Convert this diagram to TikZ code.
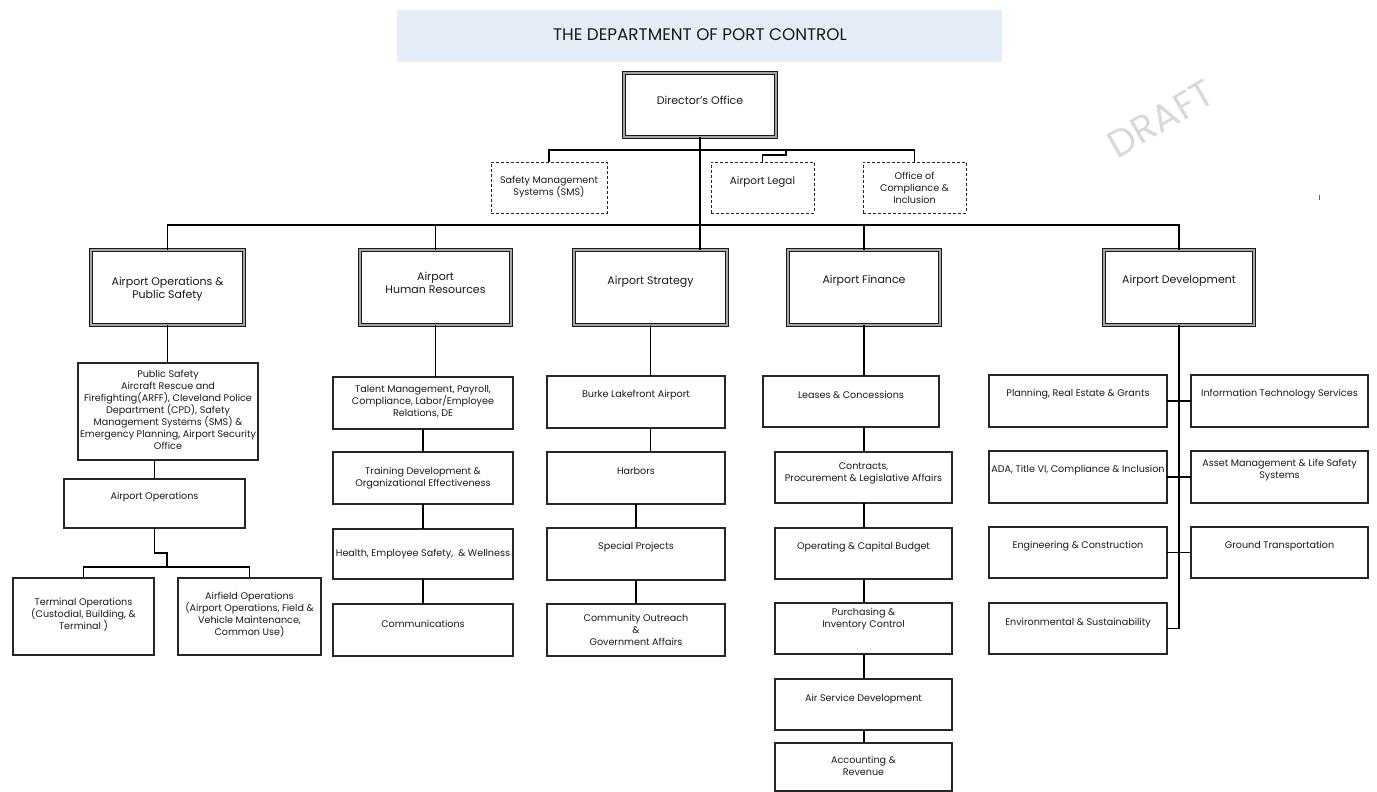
\documentclass[tikz,border=0pt]{standalone}
\usepackage{fontspec}
\setmainfont{Poppins}
\usetikzlibrary{calc}
\definecolor{bandblue}{RGB}{229,238,246}
\tikzset{
  plain/.style={draw=black!85, line width=1.1pt, inner sep=0pt, outer sep=0pt},
  dbl/.style={draw=black!90, line width=1pt, double=black!35, double distance=1.4pt, inner sep=0pt, outer sep=0pt},
  dsh/.style={draw=black!85, line width=1pt, dash pattern=on 3pt off 2pt, inner sep=0pt, outer sep=0pt},
  txt/.style={align=center, inner sep=0pt, text=black!90, font=\fontsize{9.6}{12}\selectfont},
  ttxt/.style={align=center, inner sep=0pt, text=black!90, font=\fontsize{11}{13.5}\selectfont},
  ltxt/.style={align=center, inner sep=0pt, text=black!90, font=\fontsize{10.4}{12}\selectfont},
  conn/.style={draw=black, line width=1.1pt},
}
\newcommand\bx[9]{%
  \node[#1, minimum width={(#5-#3)*1pt}, minimum height={(#6-#4)*1pt}] (#2) at ({(#3+#5)/2},{(#4+#6)/2}) {};
  \node[#9] (#2t) at ({(#3+#5)/2},#7) {#8};}
\begin{document}
\begin{tikzpicture}[x=1pt,y=-1pt]
\useasboundingbox (0,0) rectangle (1377,792);
% title band
\node[fill=bandblue, minimum width=605pt, minimum height=52pt, inner sep=0pt] (band) at (699.5,36) {};
\node[font=\fontsize{16.8}{18}\selectfont, text=black!90, inner sep=0pt] (title) at (700,35) {THE DEPARTMENT OF PORT CONTROL};
% watermark
\node[font=\fontsize{38}{40}\selectfont, text=black!15, rotate=30, inner sep=0pt] (draft) at (1161,119) {DRAFT};
\draw[black!60, line width=0.8pt] (1319,195) -- (1319,200);
% director + staff
\bx{dbl}{dir}{624}{73}{776}{137}{100}{Director's Office}{ttxt}
\bx{dsh}{sms}{491}{162}{607}{213}{187}{Safety Management\\Systems (SMS)}{txt}
\bx{dsh}{legal}{711}{162}{814}{213}{182}{Airport Legal}{ltxt}
\bx{dsh}{oci}{863}{162}{966}{213}{188}{Office of\\Compliance \&\\Inclusion}{txt}
% tier 1
\bx{dbl}{ops}{91}{250}{244}{325}{289}{Airport Operations \&\\Public Safety}{ttxt}
\bx{dbl}{hr}{360}{250}{511}{325}{283}{Airport\\Human Resources}{ttxt}
\bx{dbl}{strat}{574}{250}{727}{325}{282}{Airport Strategy}{ttxt}
\bx{dbl}{fin}{788}{250}{940}{325}{281}{Airport Finance}{ttxt}
\bx{dbl}{dev}{1104}{250}{1254}{325}{281}{Airport Development}{ttxt}
% operations column
\bx{plain}{ps}{78}{363}{258}{460}{410}{Public Safety\\Aircraft Rescue and\\Firefighting(ARFF), Cleveland Police\\Department (CPD), Safety\\Management Systems (SMS) \&\\Emergency Planning, Airport Security\\Office}{txt}
\bx{plain}{ao}{64}{479}{245}{528}{497}{Airport Operations}{txt}
\bx{plain}{term}{13}{578}{154}{655}{615}{Terminal Operations\\(Custodial, Building, \&\\Terminal )}{txt}
\bx{plain}{air}{178}{578}{321}{655}{615}{Airfield Operations\\(Airport Operations, Field \&\\Vehicle Maintenance,\\Common Use)}{txt}
% HR column
\bx{plain}{talent}{333}{377}{513}{429}{402}{Talent Management, Payroll,\\Compliance, Labor/Employee\\Relations, DE}{txt}
\bx{plain}{train}{333}{452}{513}{504}{478}{Training Development \&\\Organizational Effectiveness}{txt}
\bx{plain}{health}{333}{529}{513}{579}{554}{Health, Employee Safety,\ \ \& Wellness}{txt}
\bx{plain}{comm}{333}{604}{513}{656}{624}{Communications}{txt}
% strategy column
\bx{plain}{burke}{547}{376}{725}{428}{395}{Burke Lakefront Airport}{txt}
\bx{plain}{harb}{547}{452}{725}{504}{471}{Harbors}{txt}
\bx{plain}{spec}{547}{528}{725}{580}{547}{Special Projects}{txt}
\bx{plain}{cout}{547}{604}{725}{656}{630}{Community Outreach\\\&\\Government Affairs}{txt}
% finance column
\bx{plain}{leases}{763}{376}{939}{427}{395}{Leases \& Concessions}{txt}
\bx{plain}{contr}{775}{452}{952}{503}{473}{Contracts,\\Procurement \& Legislative Affairs}{txt}
\bx{plain}{oper}{775}{528}{952}{579}{547}{Operating \& Capital Budget}{txt}
\bx{plain}{purch}{775}{603}{952}{654}{619}{Purchasing \&\\Inventory Control}{txt}
\bx{plain}{airsvc}{775}{679}{952}{730}{699}{Air Service Development}{txt}
\bx{plain}{acct}{775}{743}{952}{791}{766}{Accounting \&\\Revenue}{txt}
% development column
\bx{plain}{plan}{989}{375}{1167}{427}{394}{Planning, Real Estate \& Grants}{txt}
\bx{plain}{it}{1191}{375}{1368}{427}{394}{Information Technology Services}{txt}
\bx{plain}{ada}{989}{451}{1167}{503}{470}{ADA, Title VI, Compliance \& Inclusion}{txt}
\bx{plain}{asset}{1191}{451}{1368}{503}{470}{Asset Management \& Life Safety\\Systems}{txt}
\bx{plain}{eng}{989}{527}{1167}{578}{546}{Engineering \& Construction}{txt}
\bx{plain}{ground}{1191}{527}{1368}{578}{546}{Ground Transportation}{txt}
\bx{plain}{env}{989}{603}{1167}{654}{623}{Environmental \& Sustainability}{txt}
% connectors: top
\coordinate (sb) at (700,150);
\coordinate (lj) at (786,150);
\draw[conn] (dir.south) -- (dir.south |- strat.north);
\draw[conn] (sms.north) |- (sb) -| (oci.north);
\draw[conn] (lj) -- ++(0,5) -| (legal.north);
\draw[conn] (ops.north) -- ++(0,-25) -| (dev.north);
\draw[conn] (hr.north) -- ++(0,-25);
\draw[conn] (fin.north) -- ++(0,-25);
% operations
\draw[conn] (ops.south) -- (ops.south |- ps.north);
\draw[conn] (ao.north |- ps.south) -- (ao.north);
\coordinate (tbus) at (167,567);
\draw[conn] (ao.south) -- ++(0,25) -| (tbus);
\draw[conn] (term.north) |- (tbus) -| (air.north);
% HR
\draw[conn] (hr.south) -- (hr.south |- talent.north);
\draw[conn] (talent.south) -- (train.north);
\draw[conn] (train.south) -- (health.north);
\draw[conn] (health.south) -- (comm.north);
% strategy
\draw[conn] (strat.south) -- (strat.south |- burke.north);
\draw[conn] (strat.south |- burke.south) -- (strat.south |- harb.north);
\draw[conn] (harb.south) -- (spec.north);
\draw[conn] (spec.south) -- (cout.north);
% finance
\draw[conn] (fin.south) -- (fin.south |- leases.north);
\draw[conn] (fin.south |- leases.south) -- (fin.south |- contr.north);
\draw[conn] (fin.south |- contr.south) -- (fin.south |- oper.north);
\draw[conn] (fin.south |- oper.south) -- (fin.south |- purch.north);
\draw[conn] (fin.south |- purch.south) -- (fin.south |- airsvc.north);
\draw[conn] (fin.south |- airsvc.south) -- (fin.south |- acct.north);
% development
\draw[conn] (dev.south) |- (env.east);
\draw[conn] (plan.east) -- (it.west);
\draw[conn] (ada.east) -- (asset.west);
\draw[conn] (eng.east) -- (ground.west);
\end{tikzpicture}
\end{document}
